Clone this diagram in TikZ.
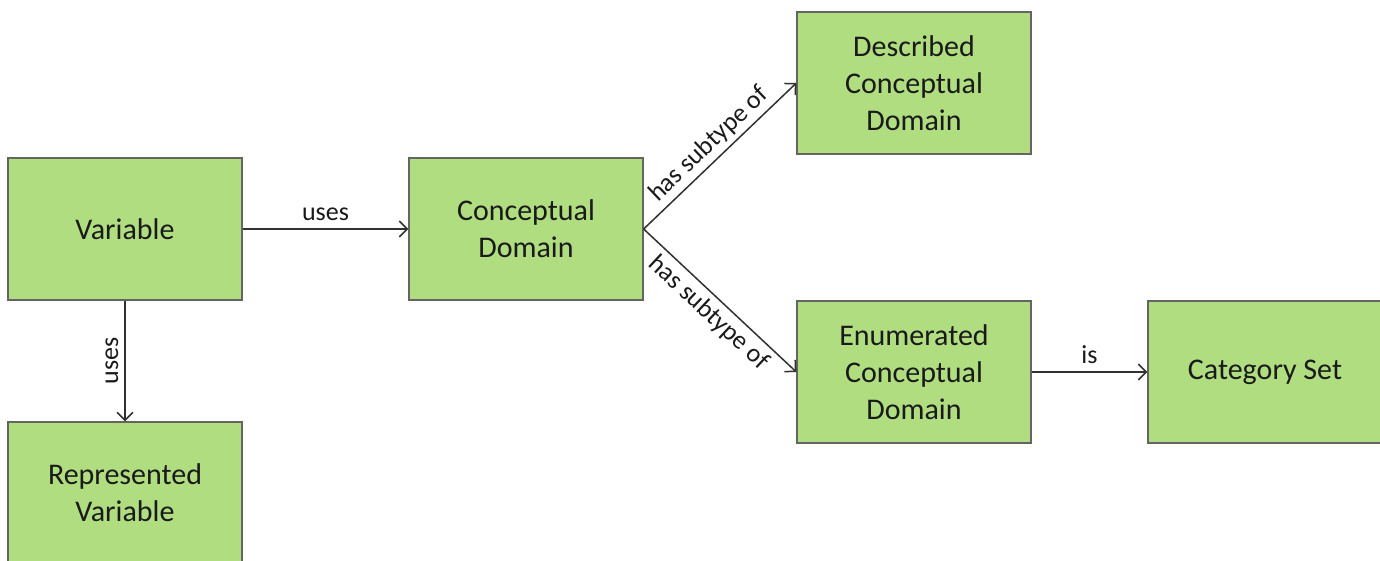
\documentclass[tikz,border=0pt]{standalone}
\usepackage{fontspec}
\setmainfont{Carlito}
\usetikzlibrary{arrows.meta}
\definecolor{boxfill}{RGB}{176,221,128}
\definecolor{boxline}{RGB}{100,100,100}
\definecolor{txt}{RGB}{26,26,26}
\begin{document}
\begin{tikzpicture}[x=1pt,y=-1pt,
  entity/.style={draw=boxline, line width=1.3pt, fill=boxfill, minimum width=234pt, minimum height=142pt,
    inner sep=0pt, align=center, text=txt, font=\fontsize{30}{37}\selectfont},
  rel/.style={draw=txt!90, line width=1.5pt, -{Straight Barb[length=8pt,width=16pt,line width=1.5pt]}},
  lbl/.style={text=txt, font=\fontsize{26}{30}\selectfont, inner sep=8pt}]
\useasboundingbox (0,0) rectangle (1380,561);
\clip (0,0) rectangle (1380,561);
\fill[white] (0,0) rectangle (1380,561);
\node[entity] (var) at (125,229) {Variable};
\node[entity] (rep) at (125,493) {Represented\\Variable};
\node[entity] (cd) at (526,229) {Conceptual\\Domain};
\node[entity] (dcd) at (914,83) {Described\\Conceptual\\Domain};
\node[entity] (ecd) at (914,372) {Enumerated\\Conceptual\\Domain};
\node[entity] (cs) at (1265,372) {Category Set};
\draw[rel] (var.east) -- node[lbl, anchor=south] {uses} (cd.west);
\draw[rel] (var.south) -- node[lbl, rotate=90, anchor=south, inner sep=6pt] {uses} (rep.north);
\draw[rel] (cd.east) -- node[lbl, sloped, above, inner sep=4pt] {has subtype of} (dcd.west);
\draw[rel] (cd.east) -- node[lbl, sloped, below, inner sep=5pt] {has subtype of} (ecd.west);
\draw[rel] (ecd.east) -- node[lbl, anchor=south] {is} (cs.west);
\end{tikzpicture}
\end{document}
